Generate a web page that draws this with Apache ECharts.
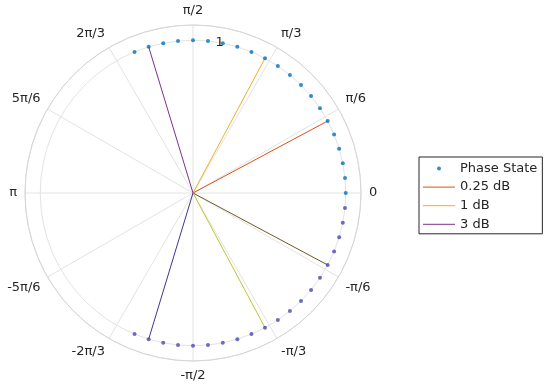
<!DOCTYPE html>
<html><head><meta charset="utf-8">
<script src="https://cdn.jsdelivr.net/npm/echarts@6/dist/echarts.min.js"></script>
<style>html,body{margin:0;padding:0;background:#fff}#c{width:550px;height:388px}</style>
</head><body><div id="c"></div>
<script>
// Phase states (degrees), all on unit radius
const phaseAnglesDeg = [-112.5, -106.875, -101.25, -95.625, -90, -84.375, -78.75, -73.125, -67.5, -61.875,
  -56.25, -50.625, -45, -39.375, -33.75, -28.125, -22.5, -16.875, -11.25, -5.625, 0,
  5.625, 11.25, 16.875, 22.5, 28.125, 33.75, 39.375, 45, 50.625, 56.25, 61.875, 67.5,
  73.125, 78.75, 84.375, 90, 95.625, 101.25, 106.875, 112.5];
const phaseRadius = [1, 1, 1, 1, 1, 1, 1, 1, 1, 1, 1, 1, 1, 1, 1, 1, 1, 1, 1, 1, 1,
  1, 1, 1, 1, 1, 1, 1, 1, 1, 1, 1, 1, 1, 1, 1, 1, 1, 1, 1, 1];
// Attenuation limit lines (end angle in degrees, end radius)
const line025Deg = [28.125, -28.125];
const line1Deg = [61.875, -61.875];
const line3Deg = [106.875, -106.875];
const lineRadius = 1;
const angleTickLabels = ['0', 'π/6', 'π/3', 'π/2', '2π/3', '5π/6', 'π', '-5π/6', '-2π/3', '-π/2', '-π/3', '-π/6'];
const radiusTickValues = [1];
const radiusLabelAngleDeg = 80;
const legendNames = ['Phase State', '0.25 dB', '1 dB', '3 dB'];

const wrap = a => (a + 360) % 360;
const upperPts = [], lowerPts = [];
phaseAnglesDeg.forEach((a, i) => {
  (a >= 0 ? upperPts : lowerPts).push([phaseRadius[i], wrap(a)]);
});
function seg(a) { return [[0, wrap(a)], [lineRadius, wrap(a)]]; }

const FONT = 'DejaVu Sans';
const TXT = '#262626';
const GRID = '#e3e3e3';
const DOT_ICON = 'path://M0 0M320 120M140 60A20 20 0 1 1 180 60A20 20 0 1 1 140 60Z';
const LINE_ICON = 'path://M0 0M320 120M0 55L320 55L320 65L0 65Z';

function lineSeries(name, a, color) {
  return {
    name: name, type: 'line', coordinateSystem: 'polar', data: seg(a),
    symbol: 'none', lineStyle: { color: color, width: 1 }, itemStyle: { color: color },
    animation: false, silent: true, z: 3
  };
}

const chart = echarts.init(document.getElementById('c'), null, { renderer: 'canvas' });
chart.setOption({
  backgroundColor: '#fff',
  animation: false,
  polar: { center: [193, 193], radius: 168 },
  angleAxis: {
    type: 'value', min: 0, max: 360, interval: 30, startAngle: 0, clockwise: false,
    axisLine: { show: true, lineStyle: { color: '#d6d6d6', width: 1 } },
    axisTick: { show: false },
    splitLine: { show: true, lineStyle: { color: GRID, width: 1 } },
    axisLabel: {
      margin: 8, color: TXT, fontFamily: FONT, fontSize: 13,
      formatter: v => (v >= 360 ? '' : angleTickLabels[Math.round(v / 30) % 12])
    }
  },
  radiusAxis: {
    type: 'value', min: 0, max: 1.1, interval: 1,
    axisLine: { show: false }, axisTick: { show: false }, axisLabel: { show: false },
    splitLine: { show: true, lineStyle: { color: GRID, width: 1 } }
  },
  legend: {
    data: [
      { name: legendNames[0], icon: DOT_ICON },
      { name: legendNames[1], icon: LINE_ICON },
      { name: legendNames[2], icon: LINE_ICON },
      { name: legendNames[3], icon: LINE_ICON }
    ],
    orient: 'vertical', left: 419, top: 157,
    itemWidth: 32, itemHeight: 12, itemGap: 5.6, itemTextGap: 5,
    padding: [5, 5, 3, 4],
    borderColor: '#262626', borderWidth: 1, backgroundColor: '#fff',
    textStyle: { color: TXT, fontFamily: FONT, fontSize: 13, lineHeight: 12 },
    selectedMode: false
  },
  series: [
    { name: legendNames[0], type: 'scatter', coordinateSystem: 'polar', data: upperPts,
      symbol: 'circle', symbolSize: 4, itemStyle: { color: '#0072BD' }, z: 4, silent: true },
    { name: legendNames[0], type: 'scatter', coordinateSystem: 'polar', data: lowerPts,
      symbol: 'circle', symbolSize: 4, itemStyle: { color: '#4848b4' }, z: 4, silent: true },
    lineSeries(legendNames[1], line025Deg[0], '#D95319'),
    lineSeries(legendNames[1], line025Deg[1], '#6e5a20'),
    lineSeries(legendNames[2], line1Deg[0], '#EDB120'),
    lineSeries(legendNames[2], line1Deg[1], '#c2c434'),
    lineSeries(legendNames[3], line3Deg[0], '#7E2F8E'),
    lineSeries(legendNames[3], line3Deg[1], '#40358e'),
    { name: 'rlabel', type: 'scatter', coordinateSystem: 'polar',
      data: radiusTickValues.map(r => [r, radiusLabelAngleDeg]),
      symbol: 'circle', symbolSize: 2, itemStyle: { opacity: 0 }, silent: true, z: 5,
      label: { show: true, position: 'inside', formatter: p => String(p.value[0]),
        color: TXT, fontFamily: FONT, fontSize: 13, opacity: 1 } }
  ]
});
</script></body></html>
